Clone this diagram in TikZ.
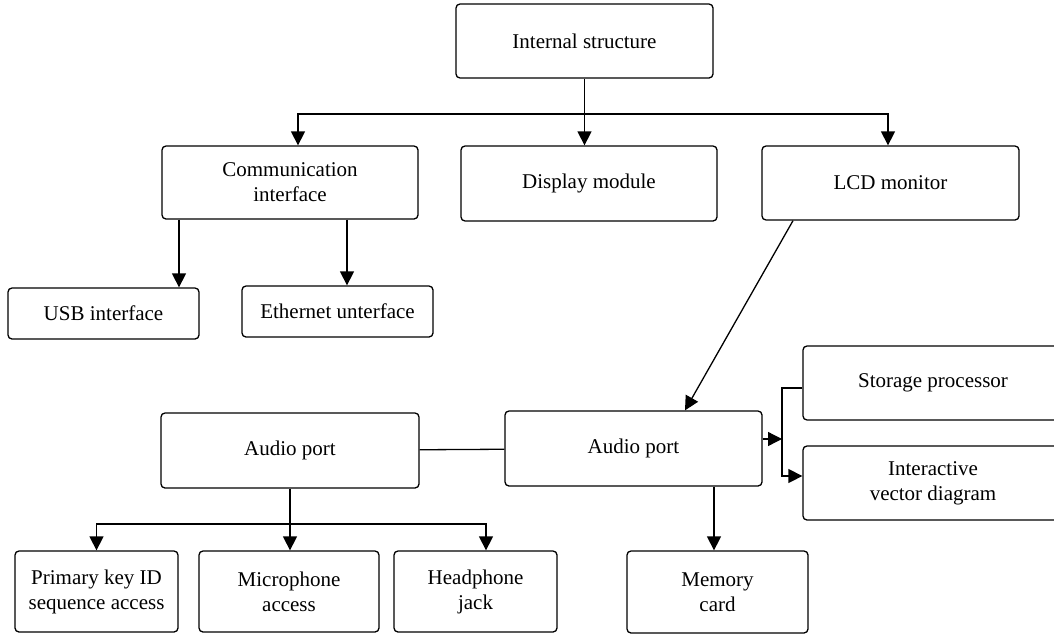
\documentclass[tikz,border=0pt]{standalone}
\usepackage{fontspec}
\setmainfont{Liberation Serif}
\usepackage{tikz}
\usetikzlibrary{arrows.meta,positioning}
\tikzset{
    block/.style = {draw, rectangle, rounded corners=4pt, align=center, inner sep=2pt},
    flow/.style = {-{Triangle[width=14pt,length=14pt]}},
}

\begin{document}
\begin{tikzpicture}[x=1pt, y=-1pt, line width=1.3pt, font=\fontsize{21}{25}\selectfont]
    \clip (0,0) rectangle (1054,635);

    % Top level
    \node[block, minimum width=257pt, minimum height=74pt] (intl) at (584.5,41) {Internal structure};
    \node[block, minimum width=256pt, minimum height=73pt] (comm) at (290,182.5) {Communication\\interface};
    \node[block, minimum width=256pt, minimum height=75pt] (disp) at (589,183.5) {Display module};
    \node[block, minimum width=257pt, minimum height=74pt] (lcd) at (890.5,183) {LCD monitor};

    % Interfaces
    \node[block, minimum width=191pt, minimum height=51pt] (usb) at (103.5,313.5) {USB interface};
    \node[block, minimum width=191pt, minimum height=51pt] (eth) at (337.5,311.5) {Ethernet unterface};

    % Audio ports
    \node[block, minimum width=258pt, minimum height=75pt] (audioL) at (290,450.5) {Audio port};
    \node[block, minimum width=257pt, minimum height=75pt] (audioR) at (633.5,448.5) {Audio port};
    \node[block, minimum width=260pt, minimum height=74pt] (stor) at (933,383) {Storage processor};
    \node[block, minimum width=260pt, minimum height=74pt] (vect) at (933,483) {Interactive\\vector diagram};

    % Bottom row
    \node[block, minimum width=163pt, minimum height=81pt] (prim) at (96.5,591.5) {Primary key ID\\sequence access};
    \node[block, minimum width=180pt, minimum height=81pt] (mic) at (289,591.5) {Microphone\\access};
    \node[block, minimum width=163pt, minimum height=81pt] (head) at (475.5,591.5) {Headphone\\jack};
    \node[block, minimum width=181pt, minimum height=82pt] (mem) at (717.5,592) {Memory\\card};

    % Connections
    \coordinate (split) at (584.5,114);
    \draw[flow] (intl) -- (intl.south |- disp.north);
    \draw[flow] (split) -| ([xshift=8pt]comm.north);
    \draw[flow] (split) -| ([xshift=-2.5pt]lcd.north);

    \draw[flow] ([xshift=-111pt]comm.south) coordinate (c1) -- (c1 |- usb.north);
    \draw[flow] ([xshift=57pt]comm.south) coordinate (c2) -- (c2 |- eth.north);

    \draw[flow] ([xshift=-97.5pt]lcd.south) -- ([xshift=51.5pt]audioR.north);
    \draw (audioL) -- (audioR);

    \coordinate (fork) at (782,439);
    \draw[flow] ([yshift=9.5pt]audioR.east) -- (fork);
    \draw[flow] ([yshift=-5pt]stor.west) -| (fork) |- ([yshift=7pt]vect.west);
    \draw[flow] ([xshift=80.5pt]audioR.south) coordinate (m1) -- (m1 |- mem.north);

    \coordinate (bus) at (290,524);
    \draw[flow] (audioL) -- (audioL.south |- mic.north);
    \draw[flow] (bus) -| (prim.north);
    \draw[flow] (bus) -| ([xshift=10.5pt]head.north);
\end{tikzpicture}
\end{document}
